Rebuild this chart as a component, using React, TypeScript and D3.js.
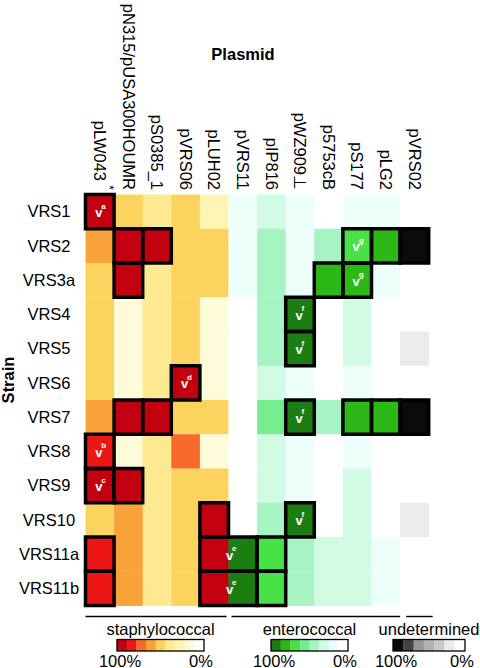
import React from "react";
import * as d3 from "d3";

const strains = ["VRS1", "VRS2", "VRS3a", "VRS4", "VRS5", "VRS6", "VRS7", "VRS8", "VRS9", "VRS10", "VRS11a", "VRS11b"];
const plasmids = ["pLW043", "pN315/pUSA300HOUMR", "pS0385_1", "pVRS06", "pLUH02", "pVRS11", "pIP816", "pWZ909⊥", "p5753cB", "pS177", "pLG2", "pVRS02"];
const plasmidNotes = ["*", "", "", "", "", "", "", "", "", "", "", ""];
const plasmidGroups = ["staph", "staph", "staph", "staph", "staph", "entero", "entero", "entero", "entero", "entero", "entero", "undet"];

// estimated % identity per strain (rows) for staphylococcal plasmids (cols 0-4)
const staphValues = [
  [95, 50, 39, 50, 30],
  [61, 95, 95, 50, 50],
  [50, 95, 39, 50, 50],
  [50, 17, 39, 50, 17],
  [50, 17, 39, 50, 17],
  [50, 17, 39, 95, 17],
  [61, 95, 95, 50, 50],
  [83, 17, 39, 72, 17],
  [95, 95, 39, 50, 50],
  [50, 61, 39, 50, 95],
  [83, 61, 39, 50, 95],
  [83, 61, 39, 50, 95],
];
// enterococcal plasmids (cols 5-10)
const enteroValues = [
  [20, 32, 20, 10, 20, 15],
  [15, 45, 20, 45, 70, 82],
  [15, 45, 20, 82, 82, 20],
  [5, 45, 99, 5, 32, 5],
  [5, 45, 99, 5, 32, 5],
  [5, 32, 20, 5, 20, 5],
  [5, 57, 99, 45, 82, 82],
  [5, 32, 20, 5, 20, 5],
  [5, 32, 20, 5, 32, 5],
  [5, 45, 99, 5, 32, 5],
  [99, 70, 45, 32, 32, 20],
  [99, 70, 45, 32, 32, 20],
];
// undetermined plasmid (col 11)
const undetValues = [5, 99, 5, 5, 20, 5, 99, 5, 5, 20, 5, 5];

// detected boxes: [strain, first plasmid index, span]
const detectedBoxes: [string, number, number][] = [
  ["VRS1", 0, 1],
  ["VRS2", 1, 1], ["VRS2", 2, 1], ["VRS2", 9, 1], ["VRS2", 10, 1], ["VRS2", 11, 1],
  ["VRS3a", 1, 1], ["VRS3a", 8, 1], ["VRS3a", 9, 1],
  ["VRS4", 7, 1],
  ["VRS5", 7, 1],
  ["VRS6", 3, 1],
  ["VRS7", 1, 1], ["VRS7", 2, 1], ["VRS7", 7, 1], ["VRS7", 9, 1], ["VRS7", 10, 1], ["VRS7", 11, 1],
  ["VRS8", 0, 1],
  ["VRS9", 0, 1], ["VRS9", 1, 1],
  ["VRS10", 4, 1], ["VRS10", 7, 1],
  ["VRS11a", 0, 1], ["VRS11a", 4, 2], ["VRS11a", 6, 1],
  ["VRS11b", 0, 1], ["VRS11b", 4, 2], ["VRS11b", 6, 1],
];

// verified marks: [strain, plasmid index, span, footnote]
const verifiedMarks: [string, number, number, string][] = [
  ["VRS1", 0, 1, "a"],
  ["VRS8", 0, 1, "b"],
  ["VRS9", 0, 1, "c"],
  ["VRS6", 3, 1, "d"],
  ["VRS11a", 4, 2, "e"],
  ["VRS11b", 4, 2, "e"],
  ["VRS4", 7, 1, "f"],
  ["VRS5", 7, 1, "f"],
  ["VRS7", 7, 1, "f"],
  ["VRS10", 7, 1, "f"],
  ["VRS2", 9, 1, "g"],
  ["VRS3a", 9, 1, "g"],
];

// palettes from 100% to 0%
const staphPalette = ["#c2000f", "#ec1616", "#f76a2c", "#f9a23a", "#fdd35f", "#fdea90", "#fef5b4", "#fefcd8", "#ffffff"];
const enteroPalette = ["#1c7e12", "#2cb816", "#46e246", "#74ee8e", "#a6f4c4", "#d2fbe3", "#edfffb", "#ffffff"];
const undetPalette = ["#0b0b0d", "#444444", "#999999", "#b2b2b2", "#cacaca", "#ebebeb", "#ffffff"];

const groupLabels = ["staphylococcal", "enterococcal", "undetermined"];
const legendLabels = ["100%", "0%"];

const FONT = "'Liberation Sans', Arial, Helvetica, sans-serif";

export default function App() {
  const W = 480, H = 668;
  const x = d3.scaleBand<number>().domain(d3.range(plasmids.length)).range([85.5, 428.7]);
  const y = d3.scaleBand<string>().domain(strains).range([194.5, 605.5]);
  const cw = x.bandwidth();
  const rh = y.bandwidth();

  const mk = (pal: string[]) => d3.scaleQuantize<string>().domain([0, 100]).range(pal.slice().reverse());
  const staphScale = mk(staphPalette);
  const enteroScale = mk(enteroPalette);
  const undetScale = mk(undetPalette);

  const cells: { r: number; c: number; fill: string }[] = [];
  strains.forEach((s, r) => {
    plasmids.forEach((p, c) => {
      const g = plasmidGroups[c];
      let fill = "#fff";
      if (g === "staph") fill = staphScale(staphValues[r][c]);
      else if (g === "entero") fill = enteroScale(enteroValues[r][c - 5]);
      else fill = undetScale(undetValues[r]);
      cells.push({ r, c, fill });
    });
  });

  const colRange = (g: string) => {
    const idx = plasmids.map((_, i) => i).filter((i) => plasmidGroups[i] === g);
    return [x(idx[0])!, x(idx[idx.length - 1])! + cw];
  };
  const brackets = [
    { g: "staph", x1: colRange("staph")[0], x2: colRange("staph")[1] - 2 },
    { g: "entero", x1: colRange("entero")[0] + 3, x2: colRange("entero")[1] },
    { g: "undet", x1: colRange("undet")[0] + 6, x2: colRange("undet")[1] + 4 },
  ];

  const legends = [
    { title: groupLabels[0], pal: staphPalette, x0: 117, x1: 204 },
    { title: groupLabels[1], pal: enteroPalette, x0: 271, x1: 348 },
    { title: groupLabels[2], pal: undetPalette, x0: 393, x1: 465 },
  ];
  const barY = 639.5, barH = 11.5;

  return (
    <svg width={W} height={H} style={{ position: "absolute", left: 0, top: 0, background: "#fff" }} fontFamily={FONT}>
      <rect width={W} height={H} fill="#fff" />
      <text x={243} y={59.5} textAnchor="middle" fontWeight="bold" fontSize={16.5}>Plasmid</text>
      <text transform="translate(14,380) rotate(-90)" textAnchor="middle" fontWeight="bold" fontSize={16.5}>Strain</text>

      {plasmids.map((p, i) => {
        const cx = x(i)! + cw / 2;
        const note = plasmidNotes[i];
        return (
          <g key={p}>
            <text transform={`translate(${cx},${note ? 181 : 190}) rotate(90)`} textAnchor="end" dy="0.35em" fontSize={16.5}>{p}</text>
            {note ? (
              <text transform={`translate(${cx + 5},190) rotate(90)`} textAnchor="end" fontSize={12}>{note}</text>
            ) : null}
          </g>
        );
      })}

      {strains.map((s) => (
        <text key={s} x={49} y={y(s)! + rh / 2} dy="0.35em" textAnchor="middle" fontSize={16.5}>{s}</text>
      ))}

      {cells.map((d) => (
        <rect key={`${d.r}-${d.c}`} x={x(d.c)!} y={y(strains[d.r])!} width={cw + 0.4} height={rh + 0.4} fill={d.fill} />
      ))}

      {detectedBoxes.map(([s, c, span], i) => (
        <rect key={i} x={x(c)!} y={y(s)!} width={cw * span} height={rh} fill="none" stroke="#000" strokeWidth={3.5} />
      ))}

      {verifiedMarks.map(([s, c, span, f], i) => {
        const cx = span === 2 ? x(c)! + cw + 1 : x(c)! + cw / 2 - 1;
        const cy = y(s)! + rh / 2;
        return (
          <g key={i} fill="#fff" fontWeight="bold">
            <text x={cx} y={cy + 5.5} textAnchor="middle" fontSize={13}>v</text>
            <text x={cx + 2.5} y={cy - 3} fontSize={8}>{f}</text>
          </g>
        );
      })}

      {brackets.map((b) => (
        <line key={b.g} x1={b.x1} x2={b.x2} y1={616.5} y2={616.5} stroke="#000" strokeWidth={1.4} />
      ))}

      {legends.map((l) => {
        const seg = d3.scaleBand<number>().domain(d3.range(l.pal.length)).range([l.x0, l.x1]);
        return (
          <g key={l.title}>
            <text x={(l.x0 + l.x1) / 2} y={635} textAnchor="middle" fontSize={16.5}>{l.title}</text>
            {l.pal.map((c, i) => (
              <rect key={i} x={seg(i)!} y={barY} width={seg.bandwidth() + 0.3} height={barH} fill={c} />
            ))}
            <rect x={l.x0} y={barY} width={l.x1 - l.x0} height={barH} fill="none" stroke="#000" strokeWidth={1.3} />
            <text x={l.x0 + 3} y={666.5} textAnchor="middle" fontSize={16.5}>{legendLabels[0]}</text>
            <text x={l.x1 - 3} y={666.5} textAnchor="middle" fontSize={16.5}>{legendLabels[1]}</text>
          </g>
        );
      })}
    </svg>
  );
}
